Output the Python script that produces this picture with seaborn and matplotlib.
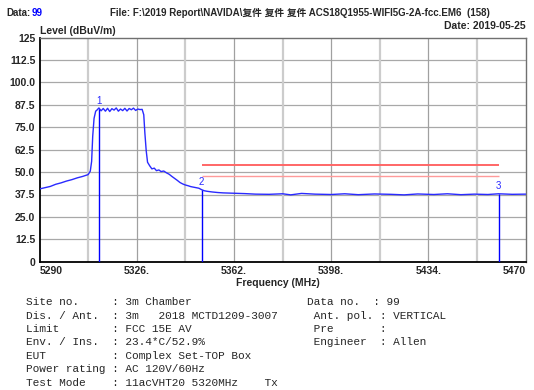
import matplotlib
matplotlib.use("Agg")
import matplotlib.pyplot as plt
import seaborn as sns
import pandas as pd

# -----------------------------
# DATA
# -----------------------------
freq = [5290, 5292, 5294, 5296, 5298, 5300, 5302, 5304, 5306, 5308,
        5308.8, 5309.3, 5309.7, 5310.2, 5310.8,
        5311.2, 5312.0, 5312.8, 5313.6, 5314.4, 5315.2, 5316.0, 5316.8, 5317.6,
        5318.4, 5319.2, 5320.0, 5320.8, 5321.6, 5322.4, 5323.2, 5324.0, 5324.8,
        5325.6, 5326.4, 5327.2, 5328.0,
        5328.6, 5329.0, 5329.5, 5330.0, 5330.8, 5331.6, 5332.5, 5333.3, 5334.2,
        5335.0, 5336.0, 5337.0, 5338.0, 5339.0, 5340.0, 5341.0, 5342.0, 5343.0,
        5344.0, 5345.0, 5346.0, 5347.0, 5348.0, 5349.0, 5350.0, 5351.0, 5352.0,
        5354, 5356, 5358, 5362, 5366, 5370, 5375, 5380, 5383, 5387, 5392, 5398,
        5403, 5408, 5414, 5420, 5425, 5430, 5436, 5441, 5446, 5451, 5456, 5460,
        5465, 5470]
level = [40.6, 41.3, 42.0, 43.2, 44.0, 45.0, 45.8, 46.8, 47.6, 48.6,
         50.5, 56.0, 70.0, 80.0, 84.0,
         84.5, 85.8, 84.2, 85.5, 84.0, 85.6, 83.8, 85.4, 84.6,
         85.8, 84.0, 85.2, 84.3, 85.6, 84.1, 85.5, 84.8, 85.7,
         84.4, 85.2, 84.9, 85.0,
         82.0, 72.0, 62.0, 55.5, 53.5, 51.8, 52.2, 50.8, 51.2,
         50.3, 50.6, 49.6, 48.8, 47.6, 46.5, 45.4, 44.2, 43.4,
         42.8, 42.4, 41.9, 41.6, 41.3, 41.0, 40.2, 39.6, 39.3,
         38.9, 38.6, 38.4, 38.2, 38.0, 37.7, 37.6, 37.9, 37.3, 38.1, 37.7, 37.5,
         37.9, 37.4, 37.8, 37.6, 37.3, 37.8, 37.5, 37.9, 37.4, 37.7, 37.5, 37.9,
         37.6, 37.7]

marker_freq = [5312.0, 5350.0, 5460.0]
marker_level = [85.3, 40.2, 37.9]
marker_names = ["1", "2", "3"]

limit_start = 5350
limit_end = 5460
limit_av = 54.0
limit_margin = 48.0

xticks = [5290, 5326, 5362, 5398, 5434, 5470]
xtick_labels = ["5290", "5326.", "5362.", "5398.", "5434.", "5470"]
yticks = [0, 12.5, 25, 37.5, 50, 62.5, 75, 87.5, 100, 112.5, 125]
ytick_labels = ["0", "12.5", "25.0", "37.5", "50.0", "62.5", "75.0", "87.5",
                "100.0", "112.5", "125"]
minor_xgrid = [5308, 5344, 5380, 5416, 5452]

info_left = [
    "Site no.     : 3m Chamber",
    "Dis. / Ant.  : 3m   2018 MCTD1209-3007",
    "Limit        : FCC 15E AV",
    "Env. / Ins.  : 23.4*C/52.9%",
    "EUT          : Complex Set-TOP Box",
    "Power rating : AC 120V/60Hz",
    "Test Mode    : 11acVHT20 5320MHz    Tx",
]
info_right = [
    "Data no.  : 99",
    " Ant. pol. : VERTICAL",
    " Pre       :",
    " Engineer  : Allen",
]

df = pd.DataFrame({"Frequency": freq, "Level": level})

# -----------------------------
# STYLE
# -----------------------------
sns.set_style("white")
plt.rcParams['font.family'] = ['Liberation Sans', 'Noto Sans CJK SC', 'DejaVu Sans']

W, H = 534, 390
fig = plt.figure(figsize=(W / 100, H / 100), dpi=100)
ax = fig.add_axes([39.5 / W, 1 - 261.7 / H, (525.7 - 39.5) / W, (261.7 - 37.7) / H])

# grid
for y in yticks[1:-1]:
    ax.axhline(y, color="#a8a8a8", lw=0.9, zorder=0)
for x in xticks[1:-1]:
    ax.axvline(x, color="#a0a0a0", lw=0.9, zorder=0)
for x in minor_xgrid:
    ax.axvline(x, color="#cccccc", lw=1.6, zorder=0)

# limit lines
ax.hlines(limit_av, limit_start, limit_end, color="#ff6666", lw=1.4, zorder=2)
ax.hlines(limit_margin, limit_start, limit_end, color="#ff9a9a", lw=1.0, zorder=2)

# trace
sns.lineplot(data=df, x="Frequency", y="Level", color="#2a2aff", lw=1.0,
             ax=ax, zorder=3, legend=False)

# markers
for f, v, name in zip(marker_freq, marker_level, marker_names):
    ax.vlines(f, 0, v, color="#0000ff", lw=1.0, zorder=4)
    ax.text(f, v + 1.5, name, color="#2a2aff", fontsize=7, ha="center",
            va="bottom", family=["Liberation Sans"])

ax.set_xlim(5290, 5470)
ax.set_ylim(0, 125)
ax.set_xticks(xticks)
ax.set_xticklabels(xtick_labels, fontsize=7.5, fontweight="bold")
ax.set_yticks(yticks)
ax.set_yticklabels(ytick_labels, fontsize=7.5, fontweight="bold")
labels = ax.get_xticklabels()
labels[0].set_horizontalalignment("left")
labels[-1].set_horizontalalignment("right")
ax.tick_params(length=0, pad=3)
ax.set_xlabel("")
ax.set_ylabel("")

for side in ["left", "bottom"]:
    ax.spines[side].set_color("black")
    ax.spines[side].set_linewidth(1.3)
for side in ["top", "right"]:
    ax.spines[side].set_color("#707070")
    ax.spines[side].set_linewidth(1.0)

# -----------------------------
# HEADER / FOOTER TEXT
# -----------------------------
def fx(px):
    return px / W

def fy(py):
    return 1 - py / H

fig.text(fx(6), fy(12.5), "Data:", fontsize=7, fontweight="bold", va="center")
fig.text(fx(32), fy(12.5), "99", fontsize=7, fontweight="bold", color="#0000ff", va="center")
fig.text(fx(110), fy(12.5),
         "File: F:\\2019 Report\\NAVIDA\\复件 复件 复件 ACS18Q1955-WIFI5G-2A-fcc.EM6  (158)",
         fontsize=7, fontweight="bold", va="center")
fig.text(fx(40), fy(31), "Level (dBuV/m)", fontsize=7.5, fontweight="bold", va="center")
fig.text(fx(526), fy(26), "Date: 2019-05-25", fontsize=7.5, fontweight="bold",
         va="center", ha="right")
fig.text(fx(278), fy(283), "Frequency (MHz)", fontsize=7.5, fontweight="bold",
         va="center", ha="center")

row_y = [302, 316, 329, 342, 356, 369, 383]
for i, line in enumerate(info_left):
    fig.text(fx(26), fy(row_y[i]), line, fontsize=8, family=["Liberation Mono"],
             va="center")
for i, line in enumerate(info_right):
    fig.text(fx(307), fy(row_y[i]), line, fontsize=8, family=["Liberation Mono"],
             va="center")

plt.savefig("out.png", dpi=100)
plt.close()
